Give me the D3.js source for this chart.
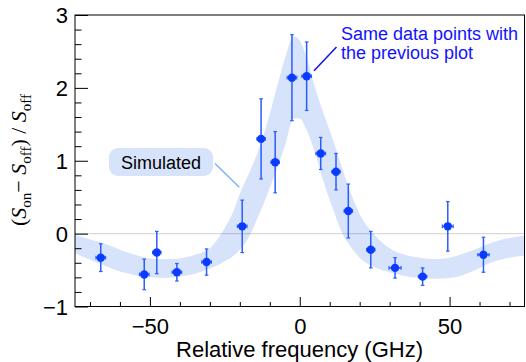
<!DOCTYPE html>
<html>
<head>
<meta charset="utf-8">
<script src="https://cdn.jsdelivr.net/npm/d3@7"></script>
<style>
  body { margin: 0; background: #fff; }
  svg { display: block; font-family: "Liberation Sans", Arial, sans-serif; }
</style>
</head>
<body>
<svg id="chart" width="526" height="362"></svg>
<script>
// measured points (GHz, relative change, errors)
var freq   = [-66.4, -51.9, -47.7, -41.0, -31.1, -19.2, -12.9, -8.2, -2.6, 2.3, 7.0, 12.1, 16.2, 23.7, 31.8, 41.0, 49.4, 61.3];
var value  = [-0.33, -0.56, -0.26, -0.53, -0.39, 0.10, 1.30, 0.98, 2.14, 2.16, 1.10, 0.85, 0.31, -0.22, -0.47, -0.59, 0.10, -0.29];
var yErr   = [0.19, 0.21, 0.29, 0.12, 0.18, 0.36, 0.55, 0.42, 0.59, 0.47, 0.22, 0.25, 0.37, 0.25, 0.14, 0.12, 0.34, 0.24];
var xErr   = [1.6, 1.6, 1.4, 1.6, 1.6, 1.6, 1.4, 1.4, 1.6, 1.6, 1.6, 1.4, 1.4, 1.4, 2.0, 1.4, 1.8, 1.9];

// simulated band
var simFreq  = [-75, -70, -65, -60, -55, -50, -45, -40, -35, -30, -25, -22, -20, -17, -14, -11, -8, -5, -2, 0, 2, 5, 8, 11, 14, 17, 20, 25, 30, 35, 40, 45, 50, 55, 60, 65, 70, 75];
var simUpper = [-0.02, -0.08, -0.14, -0.22, -0.29, -0.34, -0.35, -0.34, -0.29, -0.20, 0.08, 0.32, 0.55, 0.82, 1.12, 1.50, 1.95, 2.40, 2.71, 2.65, 2.45, 2.02, 1.64, 1.30, 0.92, 0.56, 0.27, -0.02, -0.20, -0.29, -0.33, -0.35, -0.33, -0.27, -0.19, -0.11, -0.06, -0.03];
var simLower = [-0.27, -0.36, -0.44, -0.52, -0.57, -0.60, -0.61, -0.59, -0.55, -0.48, -0.38, -0.30, -0.22, -0.05, 0.22, 0.52, 0.85, 1.20, 1.58, 1.58, 1.45, 1.12, 0.70, 0.35, 0.02, -0.18, -0.33, -0.46, -0.53, -0.58, -0.61, -0.62, -0.61, -0.56, -0.47, -0.38, -0.33, -0.30];

var xTicks = [-50, 0, 50];
var yTicks = [-1, 0, 1, 2, 3];

var svg = d3.select("#chart");
var margin = {top: 15, right: 1.5, bottom: 55.5, left: 75};
var width = +svg.attr("width") - margin.left - margin.right;
var height = +svg.attr("height") - margin.top - margin.bottom;

var x = d3.scaleLinear().domain([-75, 75]).range([0, width]);
var y = d3.scaleLinear().domain([-1, 3]).range([height, 0]);

var g = svg.append("g")
    .attr("transform", "translate(" + margin.left + "," + margin.top + ")");

svg.append("defs").append("clipPath")
    .attr("id", "clip")
  .append("rect")
    .attr("width", width)
    .attr("height", height);

var band = simFreq.map(function(f, i) { return {f: f, lo: simLower[i], hi: simUpper[i]}; });

var area = d3.area()
    .curve(d3.curveMonotoneX)
    .x(function(d) { return x(d.f); })
    .y0(function(d) { return y(d.lo); })
    .y1(function(d) { return y(d.hi); });

g.append("path")
    .datum(band)
    .attr("clip-path", "url(#clip)")
    .attr("fill", "#d7e3fb")
    .attr("d", area);

// zero line
g.append("line")
    .attr("x1", 0).attr("x2", width)
    .attr("y1", y(0)).attr("y2", y(0))
    .attr("stroke", "#000")
    .attr("stroke-opacity", 0.15)
    .attr("stroke-width", 1.3);

// frame
g.append("rect")
    .attr("width", width)
    .attr("height", height)
    .attr("fill", "none")
    .attr("stroke", "#000")
    .attr("stroke-width", 1);

// axes, ticks inside like ROOT
var xAxis = d3.axisBottom(x).tickValues(xTicks).tickSize(-9.5).tickFormat(d => d3.format("")(d).replace("-", "\u2212"));
var xMinor = d3.axisBottom(x).tickValues(d3.range(-70, 71, 10).filter(v => v % 50 !== 0)).tickSize(-4.5).tickFormat("");
var yAxis = d3.axisLeft(y).tickValues(yTicks).tickSize(-13).tickFormat(d => d3.format("")(d).replace("-", "\u2212"));
var yMinor = d3.axisLeft(y).tickValues(d3.range(-10, 31, 2).map(v => v / 10).filter(v => Math.abs(v - Math.round(v)) > 1e-6)).tickSize(-6.5).tickFormat("");

function styleAxis(sel) {
  sel.select(".domain").remove();
  sel.selectAll("line").attr("stroke", "#000").attr("stroke-width", 1);
  sel.selectAll("text").attr("fill", "#000").attr("font-size", 22)
     .attr("font-family", "Liberation Sans, Arial, sans-serif");
}

g.append("g").attr("transform", "translate(0," + height + ")").call(xMinor).call(styleAxis);
g.append("g").attr("transform", "translate(0," + height + ")").call(xAxis).call(styleAxis)
  .selectAll("text").attr("y", 12).attr("dy", "0.71em");
g.append("g").call(yMinor).call(styleAxis);
g.append("g").call(yAxis).call(styleAxis)
  .selectAll("text").attr("x", -7).attr("dy", "0.36em");

// data points with error bars
var pts = freq.map(function(f, i) { return {f: f, v: value[i], ey: yErr[i], ex: xErr[i]}; });
var errColor = "#2b5cff", markColor = "#0a3cff";
var pg = g.append("g").selectAll("g").data(pts).enter().append("g");

pg.append("line")
    .attr("x1", d => x(d.f)).attr("x2", d => x(d.f))
    .attr("y1", d => y(d.v - d.ey)).attr("y2", d => y(d.v + d.ey))
    .attr("stroke", errColor).attr("stroke-width", 1.5);
pg.append("line")
    .attr("x1", d => x(d.f - d.ex)).attr("x2", d => x(d.f + d.ex))
    .attr("y1", d => y(d.v)).attr("y2", d => y(d.v))
    .attr("stroke", errColor).attr("stroke-width", 1.5);
[-1, 1].forEach(function(s) {
  pg.append("line")
      .attr("x1", d => x(d.f) - 1.8).attr("x2", d => x(d.f) + 1.8)
      .attr("y1", d => y(d.v + s * d.ey)).attr("y2", d => y(d.v + s * d.ey))
      .attr("stroke", errColor).attr("stroke-width", 1.2);
  pg.append("line")
      .attr("x1", d => x(d.f + s * d.ex)).attr("x2", d => x(d.f + s * d.ex))
      .attr("y1", d => y(d.v) - 1.8).attr("y2", d => y(d.v) + 1.8)
      .attr("stroke", errColor).attr("stroke-width", 1.2);
});
pg.append("circle")
    .attr("cx", d => x(d.f)).attr("cy", d => y(d.v))
    .attr("r", 4.2)
    .attr("fill", markColor);

// "Simulated" label
svg.append("line")
    .attr("x1", 215).attr("y1", 163.5).attr("x2", 239.3).attr("y2", 187.3)
    .attr("stroke", "#7fb2f2").attr("stroke-width", 1.5);
svg.append("rect")
    .attr("x", 109).attr("y", 148).attr("width", 104).attr("height", 28)
    .attr("rx", 9)
    .attr("fill", "#d7e3fb");
svg.append("text")
    .attr("x", 161).attr("y", 168.5)
    .attr("text-anchor", "middle")
    .attr("font-size", 18)
    .attr("fill", "#000")
    .text("Simulated");

// annotation, two separate lines
svg.append("line")
    .attr("x1", 336.5).attr("y1", 47).attr("x2", 314).attr("y2", 70.7)
    .attr("stroke", "#1010e8").attr("stroke-width", 1.5);
svg.append("text")
    .attr("x", 341).attr("y", 39.5)
    .attr("font-size", 18)
    .attr("fill", "#1212ff")
    .text("Same data points with");
svg.append("text")
    .attr("x", 341).attr("y", 59)
    .attr("font-size", 18)
    .attr("fill", "#1212ff")
    .text("the previous plot");

// x title
svg.append("text")
    .attr("x", 423).attr("y", 357)
    .attr("text-anchor", "end")
    .attr("font-size", 22)
    .text("Relative frequency (GHz)");

// y title: (S_on − S_off) / S_off
var yt = svg.append("text")
    .attr("transform", "translate(26,160) rotate(-90)")
    .attr("text-anchor", "middle")
    .attr("font-family", "Liberation Serif, Times New Roman, serif")
    .attr("font-size", 22);
yt.append("tspan").text("(");
yt.append("tspan").attr("font-style", "italic").text("S");
yt.append("tspan").attr("font-size", 15).attr("dy", 5).text("on");
yt.append("tspan").attr("dy", -5).text("\u2212 ");
yt.append("tspan").attr("font-style", "italic").text("S");
yt.append("tspan").attr("font-size", 15).attr("dy", 5).text("off");
yt.append("tspan").attr("dy", -5).text(") / ");
yt.append("tspan").attr("font-style", "italic").text("S");
yt.append("tspan").attr("font-size", 15).attr("dy", 5).text("off");
</script>
</body>
</html>
